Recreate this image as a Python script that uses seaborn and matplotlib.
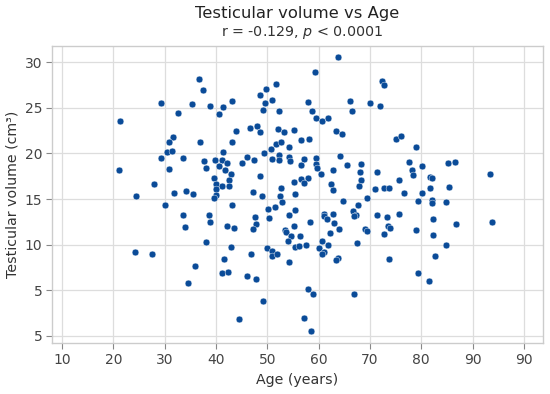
import matplotlib
matplotlib.use("Agg")
import matplotlib.pyplot as plt
import seaborn as sns
import pandas as pd

age = [
    21.3, 21.1, 36.7, 37.4, 29.2, 35.4, 38.8, 41.4, 43.1, 32.6, 40.6, 44.0, 46.7, 31.6, 30.9, 36.9,
    43.1, 30.4, 31.4, 41.4, 29.3, 33.6, 37.7, 39.9, 41.2, 42.1, 45.0, 46.0, 30.8, 38.1, 40.6, 41.8,
    43.0, 39.7, 28.0, 40.1, 42.6, 41.2, 42.5, 40.0,
    24.4, 31.9, 34.2, 35.5, 40.0, 39.7, 30.1, 43.2, 33.6, 38.6, 38.8, 33.9, 42.1, 43.5, 38.0, 42.9,
    24.2, 27.5, 46.8, 41.5, 36.0, 41.2, 42.3, 46.0, 34.5, 44.5,
    63.7, 59.3, 72.4, 72.8, 49.7, 51.7, 48.5, 51.0, 49.5, 49.2, 52.3, 57.9, 58.8, 66.2, 66.5, 70.1,
    71.9, 59.4, 60.7, 61.8, 48.0, 48.6, 52.0, 53.2, 55.2, 56.5, 58.1, 63.4, 64.5, 75.0, 51.7, 52.6,
    54.2, 50.7, 49.4, 47.4, 51.0, 52.3, 52.3, 54.2, 54.4, 57.1, 59.4, 64.1, 56.5, 59.4, 59.6, 60.4,
    62.9, 65.5, 68.3, 68.1, 71.4, 48.5, 57.9, 56.6, 57.1, 55.3, 62.5, 68.3, 67.9, 62.9, 52.7, 71.0,
    72.7, 73.8, 75.7,
    47.2, 49.0, 52.5, 52.9, 55.5, 69.4, 64.7, 67.7, 50.1, 51.5, 47.6, 47.9, 47.3, 50.3, 54.2, 55.4,
    58.3, 55.3, 53.4, 53.6, 54.7, 56.4, 54.0, 55.5, 56.2, 57.5, 61.0, 61.1, 62.9, 61.7, 63.1, 64.0,
    62.2, 60.6, 61.8, 60.0, 61.0, 60.7, 63.7, 63.4, 66.8, 67.3, 66.9, 69.0, 69.4, 67.4, 71.3, 73.4,
    75.7, 73.6, 73.9, 72.8, 73.7, 50.0, 51.0, 51.0, 51.9, 54.2, 47.8, 49.2, 58.0, 59.0, 66.9, 57.1,
    58.5,
    76.0, 78.9, 77.7, 80.1, 78.2, 78.4, 85.2, 86.6, 81.8, 82.1, 81.7, 85.4, 76.6, 80.1, 79.3, 82.1,
    82.1, 84.8, 93.4, 82.3, 86.8, 93.8, 79.0, 82.3, 84.9, 82.6, 79.3, 81.6,
]
volume = [
    23.5, 18.2, 28.1, 27.0, 25.5, 25.4, 25.2, 25.1, 25.7, 24.4, 24.3, 22.5, 22.8, 21.8, 21.3, 21.3,
    21.2, 20.2, 20.3, 20.2, 19.5, 19.5, 19.2, 19.3, 19.3, 19.0, 19.0, 19.6, 18.3, 18.4, 18.6, 18.2,
    17.7, 17.3, 16.7, 16.7, 17.1, 16.4, 16.4, 16.1,
    15.3, 15.7, 15.9, 15.5, 15.4, 15.1, 14.3, 14.3, 13.3, 13.2, 12.5, 11.9, 12.0, 11.8, 10.3, 9.8,
    9.2, 9.0, 9.0, 8.4, 7.7, 6.9, 7.0, 6.6, 5.8, 1.9,
    30.6, 28.9, 27.9, 27.5, 27.1, 27.6, 26.4, 25.9, 25.5, 24.8, 24.7, 25.6, 24.6, 25.7, 24.6, 25.5,
    25.2, 23.9, 23.5, 23.9, 23.0, 22.4, 22.7, 22.4, 22.6, 21.5, 21.6, 22.5, 22.1, 21.6, 21.0, 21.3,
    20.7, 20.5, 20.1, 19.3, 19.4, 19.8, 19.3, 19.6, 19.2, 19.4, 19.5, 19.7, 18.7, 18.8, 18.4, 17.7,
    18.2, 18.7, 18.8, 18.0, 18.0, 17.5, 17.3, 17.2, 16.8, 16.9, 16.7, 17.1, 16.4, 16.0, 16.2, 16.1,
    16.2, 16.2, 17.1,
    15.8, 15.3, 15.3, 14.7, 15.6, 15.1, 14.8, 14.3, 13.9, 14.1, 13.0, 12.3, 11.7, 12.9, 13.3, 13.8,
    12.5, 12.1, 11.6, 11.4, 10.9, 11.0, 10.4, 9.8, 9.9, 10.0, 13.4, 13.1, 13.4, 12.8, 12.4, 11.7,
    11.3, 10.4, 10.0, 9.6, 9.2, 9.0, 8.5, 8.3, 13.7, 13.3, 13.1, 11.7, 11.5, 10.2, 13.3, 13.0,
    13.4, 12.0, 11.8, 11.2, 8.4, 9.6, 9.3, 8.8, 9.0, 8.1, 6.2, 3.8, 5.2, 4.6, 4.6, 2.0,
    0.6,
    21.9, 20.7, 19.1, 18.6, 18.2, 17.6, 18.9, 19.1, 17.4, 17.3, 16.2, 16.3, 15.7, 15.7, 14.8, 14.9,
    14.6, 14.7, 17.8, 12.8, 12.3, 12.5, 11.6, 11.1, 10.0, 8.8, 6.9, 6.0,
]

x_ticks = [10, 20, 30, 40, 50, 60, 70, 80, 90, 100]
x_tick_labels = ["10", "20", "30", "40", "50", "60", "70", "80", "90", "90"]
y_ticks = [0, 5, 10, 15, 20, 25, 30]
y_tick_labels = ["5", "5", "10", "15", "20", "25", "30"]

df = pd.DataFrame({"Age": age, "Volume": volume})

sns.set_theme(style="whitegrid")
plt.rcParams["font.family"] = ["DejaVu Sans"]

fig = plt.figure(figsize=(5.5, 3.94), dpi=100)
ax = fig.add_axes([0.095, 0.1287, 0.892, 0.7553])

sns.scatterplot(data=df, x="Age", y="Volume", ax=ax, color="#0a4b98",
                s=24, edgecolor="white", linewidth=0.3, zorder=3)

ax.set_xlim(8.1, 103.7)
ax.set_ylim(-0.8, 31.8)
ax.set_xticks(x_ticks)
ax.set_xticklabels(x_tick_labels)
ax.set_yticks(y_ticks)
ax.set_yticklabels(y_tick_labels)

ax.grid(True, color="#dddddd", linewidth=0.9)
for sp in ax.spines.values():
    sp.set_color("#cccccc")
    sp.set_linewidth(1.0)
ax.tick_params(axis="both", which="both", length=4, width=0.8, color="#888888",
               labelsize=10, labelcolor="#444444", pad=3, left=True, bottom=True)

ax.set_xlabel("Age (years)", fontsize=10.2, color="#333333", labelpad=4)
ax.set_ylabel("Testicular volume (cm³)", fontsize=10.2, color="#333333", labelpad=4)

fig.text(0.541, 0.966, "Testicular volume vs Age", ha="center", va="center",
         fontsize=11.8, color="#222222")
fig.text(0.55, 0.917, r"r = -0.129, $\it{p}$ < 0.0001", ha="center", va="center",
         fontsize=10.3, color="#333333")

fig.savefig("out.png", dpi=100, facecolor="white")
